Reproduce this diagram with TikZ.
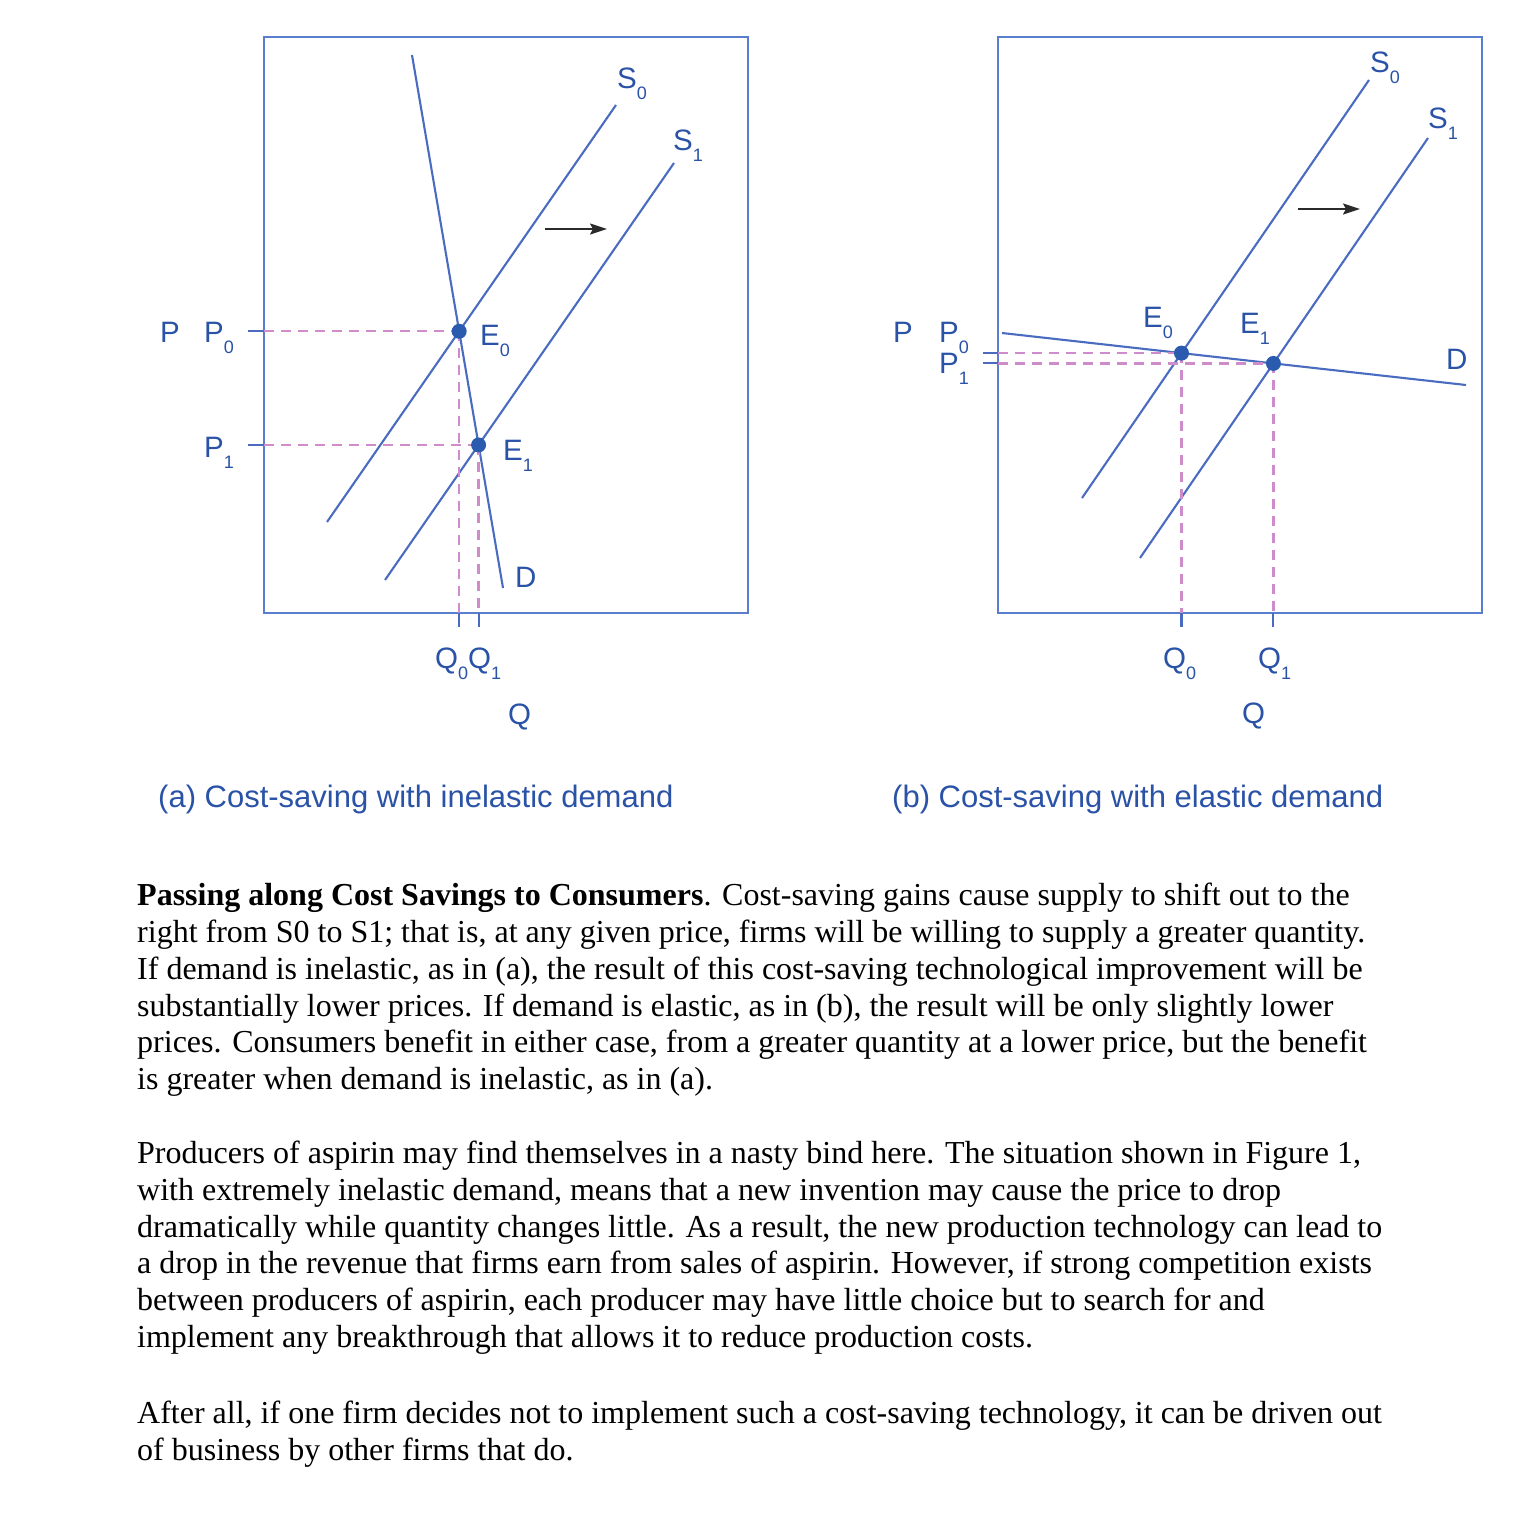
\documentclass[tikz,border=0pt]{standalone}
\usepackage{fontspec}
\setmainfont{Liberation Serif}
\newfontfamily\arialf{Liberation Sans}
\usetikzlibrary{arrows.meta,intersections}
\definecolor{curve}{HTML}{4A6CC0}
\definecolor{frame}{HTML}{5A7ECE}
\definecolor{lab}{HTML}{2A52A6}
\definecolor{dotc}{HTML}{2B5BAE}
\definecolor{guide}{HTML}{CF8CCB}
\definecolor{shiftc}{HTML}{2A2A2A}
\newcommand{\sbs}[1]{\raisebox{-11pt}{\fontsize{18}{18}\selectfont #1}}
\begin{document}
\begin{tikzpicture}[x=1pt,y=-1pt,
 curveline/.style={draw=curve,line width=2.1pt},
 framebox/.style={draw=frame,line width=2.2pt},
 guideline/.style={draw=guide,line width=2.2pt,dash pattern=on 10pt off 7pt},
 tickline/.style={draw=curve,line width=2.1pt},
 eqdot/.style={circle,fill=dotc,inner sep=0pt,minimum size=15pt},
 lbl/.style={anchor=base west,inner sep=0pt,text=lab,font=\arialf\fontsize{29.5}{34}\selectfont},
 captxt/.style={anchor=base west,inner sep=0pt,text=lab,font=\arialf\fontsize{31}{36}\selectfont},
 body/.style={anchor=base west,inner sep=0pt,font=\fontsize{32}{37}\selectfont},
 shiftarrow/.style={draw=shiftc,line width=1.8pt,-{Stealth[length=17pt,width=11pt,inset=3pt]}}
]
\path[use as bounding box,fill=white] (0,0) rectangle (1530,1531);

% ---------- panel (a) ----------
\coordinate (la) at (264,37);
\coordinate (ba) at (264,613);
\coordinate (tla) at (248,0);
\coordinate (tqa) at (0,627);
\draw[framebox] (264,37) rectangle (748,613);
\coordinate (s0a1) at (327,522);
\coordinate (s0a2) at (616,105);
\coordinate (s1a1) at (385,580);
\coordinate (s1a2) at (674,163);
\coordinate (da1) at (412,55);
\coordinate (da2) at (503,588);
\draw[curveline,name path=S0a] (s0a1) -- (s0a2);
\draw[curveline,name path=S1a] (s1a1) -- (s1a2);
\draw[curveline,name path=Da] (da1) -- (da2);
\path[name intersections={of=S0a and Da,by=E0a}];
\path[name intersections={of=S1a and Da,by=E1a}];
\draw[guideline] (la |- E0a) -- (E0a);
\draw[guideline] (la |- E1a) -- (E1a);
\draw[guideline] (E0a) -- (E0a |- ba);
\draw[guideline] (E1a) -- (E1a |- ba);
\draw[tickline] (tla |- E0a) -- (la |- E0a);
\draw[tickline] (tla |- E1a) -- (la |- E1a);
\draw[tickline] (E0a |- ba) -- (E0a |- tqa);
\draw[tickline] (E1a |- ba) -- (E1a |- tqa);
\coordinate (ara1) at (545,229);
\coordinate (ara2) at (607,229);
\draw[shiftarrow] (ara1) -- (ara2);
\node[eqdot] (dE0a) at (E0a) {};
\node[eqdot] (dE1a) at (E1a) {};
\node[lbl] (Pa) at (160,342) {P};
\node[lbl] (P0a) at (204,342) {P\sbs{0}};
\node[lbl] (P1a) at (204,457) {P\sbs{1}};
\node[lbl] (E0la) at (480,345) {E\sbs{0}};
\node[lbl] (E1la) at (503,460) {E\sbs{1}};
\node[lbl] (Dla) at (515,587) {D};
\node[lbl] (S0la) at (617,88) {S\sbs{0}};
\node[lbl] (S1la) at (673,150) {S\sbs{1}};
\node[lbl] (Qla) at (435,668) {Q\sbs{0}Q\sbs{1}};
\node[lbl] (Qaxa) at (508,724) {Q};
\node[captxt] (capa) at (158,807) {(a) Cost-saving with inelastic demand};

% ---------- panel (b) ----------
\coordinate (lb) at (998,37);
\coordinate (bb) at (998,613);
\coordinate (tlb) at (983,0);
\coordinate (tqb) at (0,627);
\draw[framebox] (998,37) rectangle (1482,613);
\coordinate (s0b1) at (1082,498);
\coordinate (s0b2) at (1369,80);
\coordinate (s1b1) at (1140,558);
\coordinate (s1b2) at (1428,138);
\coordinate (db1) at (1002,333);
\coordinate (db2) at (1466,385);
\draw[curveline,name path=S0b] (s0b1) -- (s0b2);
\draw[curveline,name path=S1b] (s1b1) -- (s1b2);
\draw[curveline,name path=Db] (db1) -- (db2);
\path[name intersections={of=S0b and Db,by=E0b}];
\path[name intersections={of=S1b and Db,by=E1b}];
\draw[guideline] (lb |- E0b) -- (E0b);
\draw[guideline] (lb |- E1b) -- (E1b);
\draw[guideline] (E0b) -- (E0b |- bb);
\draw[guideline] (E1b) -- (E1b |- bb);
\draw[tickline] (tlb |- E0b) -- (lb |- E0b);
\draw[tickline] (tlb |- E1b) -- (lb |- E1b);
\draw[tickline] (E0b |- bb) -- (E0b |- tqb);
\draw[tickline] (E1b |- bb) -- (E1b |- tqb);
\coordinate (arb1) at (1298,209);
\coordinate (arb2) at (1360,209);
\draw[shiftarrow] (arb1) -- (arb2);
\node[eqdot] (dE0b) at (E0b) {};
\node[eqdot] (dE1b) at (E1b) {};
\node[lbl] (Pb) at (893,342) {P};
\node[lbl] (P0b) at (939,342) {P\sbs{0}};
\node[lbl] (P1b) at (939,373) {P\sbs{1}};
\node[lbl] (E0lb) at (1143,327) {E\sbs{0}};
\node[lbl] (E1lb) at (1240,333) {E\sbs{1}};
\node[lbl] (Dlb) at (1446,369) {D};
\node[lbl] (S0lb) at (1370,72) {S\sbs{0}};
\node[lbl] (S1lb) at (1428,128) {S\sbs{1}};
\node[lbl] (Q0lb) at (1163,668) {Q\sbs{0}};
\node[lbl] (Q1lb) at (1258,668) {Q\sbs{1}};
\node[lbl] (Qaxb) at (1242,723) {Q};
\node[captxt] (capb) at (892,807) {(b) Cost-saving with elastic demand};

% ---------- text ----------
\node[body] (t1) at (137,905) {{\bfseries Passing along Cost Savings to Consumers}. Cost-saving gains cause supply to shift out to the};
\node[body] (t2) at (137,942) {right from S0 to S1; that is, at any given price, firms will be willing to supply a greater quantity.};
\node[body] (t3) at (137,979) {If demand is inelastic, as in (a), the result of this cost-saving technological improvement will be};
\node[body] (t4) at (137,1016) {substantially lower prices. If demand is elastic, as in (b), the result will be only slightly lower};
\node[body] (t5) at (137,1052) {prices. Consumers benefit in either case, from a greater quantity at a lower price, but the benefit};
\node[body] (t6) at (137,1089) {is greater when demand is inelastic, as in (a).};
\node[body] (t7) at (137,1163) {Producers of aspirin may find themselves in a nasty bind here. The situation shown in Figure 1,};
\node[body] (t8) at (137,1200) {with extremely inelastic demand, means that a new invention may cause the price to drop};
\node[body] (t9) at (137,1237) {dramatically while quantity changes little. As a result, the new production technology can lead to};
\node[body] (t10) at (137,1273) {a drop in the revenue that firms earn from sales of aspirin. However, if strong competition exists};
\node[body] (t11) at (137,1310) {between producers of aspirin, each producer may have little choice but to search for and};
\node[body] (t12) at (137,1347) {implement any breakthrough that allows it to reduce production costs.};
\node[body] (t13) at (137,1423) {After all, if one firm decides not to implement such a cost-saving technology, it can be driven out};
\node[body] (t14) at (137,1460) {of business by other firms that do.};
\end{tikzpicture}
\end{document}
